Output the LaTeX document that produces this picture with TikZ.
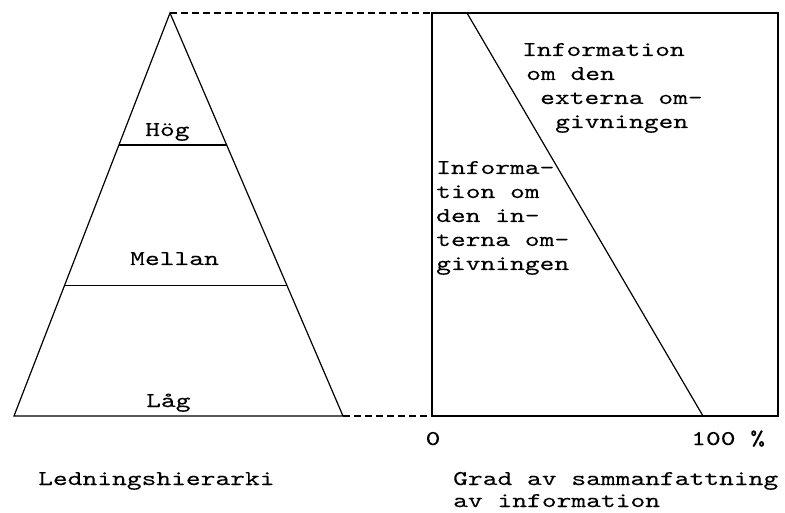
\documentclass[tikz,border=0pt]{standalone}
\usepackage{fontspec}
\newfontfamily\tw{lmmono10-regular}[Extension=.otf, FakeStretch=1.34, FakeBold=0.12]
\usetikzlibrary{calc}
\begin{document}
\begin{tikzpicture}[x=1pt,y=-1pt,
  edge/.style={line width=1.2pt, line join=miter},
  dashlink/.style={line width=1.2pt, dash pattern=on 7pt off 4pt},
  lbl/.style={inner sep=0pt, anchor=base west, font=\tw\fontsize{21}{24}\selectfont}]
\path[use as bounding box] (0,0) rectangle (785,513);
% pyramid
\coordinate (apex) at (170,13);
\coordinate (bl) at (14,416);
\coordinate (br) at (343,416);
\draw[edge] (bl) -- (apex) -- (br) -- cycle;
\coordinate (hogL) at ($(apex)!0.3275!(bl)$);
\coordinate (hogR) at ($(apex)!0.3275!(br)$);
\coordinate (melL) at ($(apex)!0.677!(bl)$);
\coordinate (melR) at ($(apex)!0.677!(br)$);
\draw[edge] (hogL) -- (hogR);
\draw[edge] (melL) -- (melR);
% box
\coordinate (rtl) at (432,13);
\coordinate (rtr) at (778,13);
\coordinate (rbr) at (778,416);
\coordinate (rbl) at (432,416);
\draw[edge] (rtl) -- (rtr) -- (rbr) -- (rbl) -- cycle;
\coordinate (dtop) at (467,13);
\coordinate (dbot) at (703,416);
\draw[edge] (dtop) -- (dbot);
% dashed links
\draw[dashlink] (apex) -- (rtl);
\draw[dashlink] (br) -- (rbl);
% labels pyramid
\node[lbl] (hog) at (145,136) {Hög};
\node[lbl] (mellan) at (130,265) {Mellan};
\node[lbl] (lag) at (146,407) {Låg};
% external info
\node[lbl] (e1) at (522,56) {Information};
\node[lbl] (e2) at (526,80) {om den};
\node[lbl] (e3) at (540,104) {externa om-};
\node[lbl] (e4) at (555,128) {givningen};
% internal info
\node[lbl] (i1) at (436,174) {Informa-};
\node[lbl] (i2) at (436,198) {tion om};
\node[lbl] (i3) at (436,222) {den in-};
\node[lbl] (i4) at (436,246) {terna om-};
\node[lbl] (i5) at (436,270) {givningen};
% axis labels
\node[lbl, anchor=base] (zero) at (433,445) {0};
\node[lbl] (hundred) at (691,445) {100 \%};
\node[lbl] (led) at (38,485) {Ledningshierarki};
\node[lbl] (grad1) at (453,485) {Grad av sammanfattning};
\node[lbl] (grad2) at (453,507) {av information};
\end{tikzpicture}
\end{document}
